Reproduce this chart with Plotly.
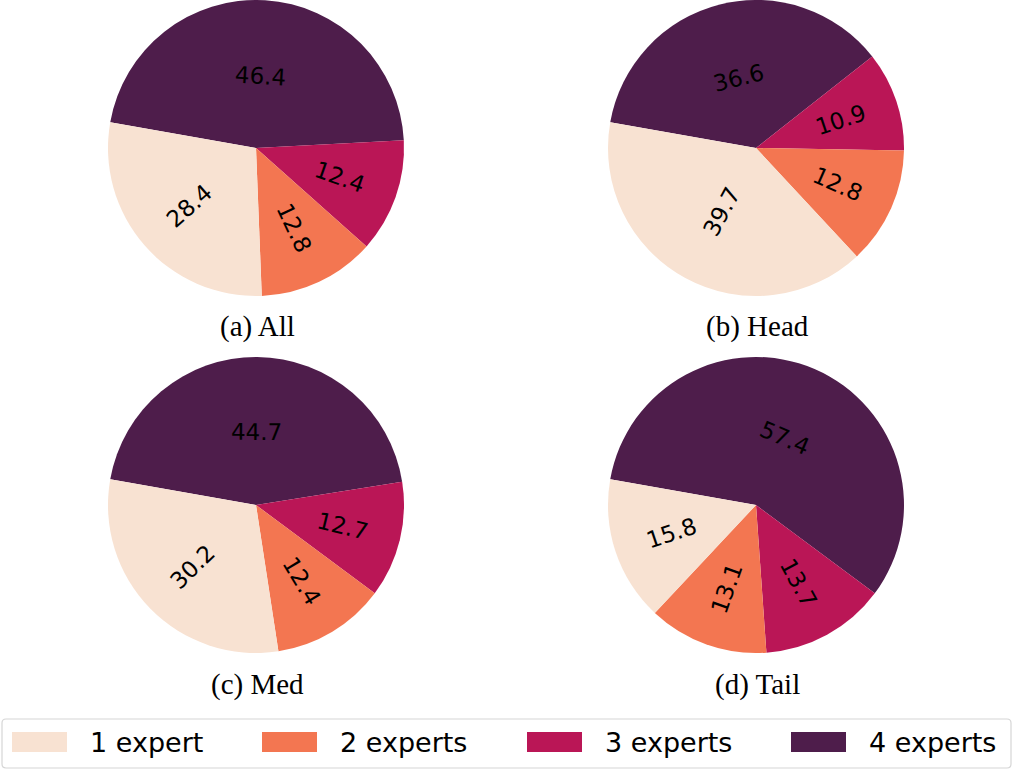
import math
import plotly.graph_objects as go

# ---------------- data ----------------
categories = ["1 expert", "2 experts", "3 experts", "4 experts"]
all_vals = [28.4, 12.8, 12.4, 46.4]
head_vals = [39.7, 12.8, 10.9, 36.6]
med_vals = [30.2, 12.4, 12.7, 44.7]
tail_vals = [15.8, 13.1, 13.7, 57.4]
panel_titles = ["(a) All", "(b) Head", "(c) Med", "(d) Tail"]

# ---------------- style ----------------
colors = ["#F8E2D2", "#F37651", "#BA1656", "#4E1D4B"]
label_orient = ["radial", "radial", "radial", "tangential"]

W, H = 1013, 771
R = 148
centers = [(256, 148), (756, 148), (256, 505), (756, 505)]
title_y = [326, 326, 684, 684]
START_DEG = 170  # math angle (ccw from east) where the first category starts


def px(x):
    return x / W


def py(y):
    return 1 - y / H


def norm180(a):
    a = a % 360
    if a > 180:
        a -= 360
    if a > 90:
        a -= 180
    elif a <= -90:
        a += 180
    return a


fig = go.Figure()

panels = [all_vals, head_vals, med_vals, tail_vals]
for vals, (cx, cy), title, ty in zip(panels, centers, panel_titles, title_y):
    dom = dict(x=[px(cx - R), px(cx + R)], y=[py(cy + R), py(cy - R)])
    # categories run counter-clockwise from START_DEG; drawn clockwise in reverse order
    fig.add_trace(go.Pie(
        labels=categories[::-1], values=vals[::-1], domain=dom, sort=False,
        direction="clockwise", rotation=90 - START_DEG,
        textinfo="none",
        marker=dict(colors=colors[::-1], line=dict(width=0)),
        hovertemplate="%{label}: %{value}<extra></extra>",
        showlegend=False))

    # value labels, placed from the slice angles
    total = sum(vals)
    acc = 0.0
    for v, o in zip(vals, label_orient):
        mid = START_DEG + (acc + v / 2) / total * 360
        acc += v
        frac = 0.6 if v < 35 else 0.49
        lx = cx + frac * R * math.cos(math.radians(mid))
        ly = cy - frac * R * math.sin(math.radians(mid))
        rot = norm180(mid) if o == "radial" else norm180(mid - 90)
        fig.add_annotation(text=f"{v:.1f}", x=px(lx), y=py(ly), xref="paper", yref="paper",
                           xanchor="center", yanchor="middle", showarrow=False,
                           textangle=-rot,
                           font=dict(family="DejaVu Sans", size=23, color="black"))

    fig.add_annotation(text=title, x=px(cx + 1), y=py(ty), xref="paper", yref="paper",
                       xanchor="center", yanchor="middle", showarrow=False,
                       font=dict(family="Liberation Serif", size=29, color="black"))

# ---------------- custom legend ----------------
lx0, lx1, ly0, ly1, rad = 2, 1011, 719, 768, 4
path = (f"M{px(lx0 + rad)},{py(ly0)} L{px(lx1 - rad)},{py(ly0)} "
        f"Q{px(lx1)},{py(ly0)} {px(lx1)},{py(ly0 + rad)} "
        f"L{px(lx1)},{py(ly1 - rad)} Q{px(lx1)},{py(ly1)} {px(lx1 - rad)},{py(ly1)} "
        f"L{px(lx0 + rad)},{py(ly1)} Q{px(lx0)},{py(ly1)} {px(lx0)},{py(ly1 - rad)} "
        f"L{px(lx0)},{py(ly0 + rad)} Q{px(lx0)},{py(ly0)} {px(lx0 + rad)},{py(ly0)} Z")
fig.add_shape(type="path", path=path, xref="paper", yref="paper",
              line=dict(color="#D6D6D6", width=1.2), fillcolor="white")

patch_x = [12, 262, 527, 791]
patch_w, patch_y0, patch_y1 = 55, 732, 752
text_gap = 21
for cat, col, x0 in zip(categories, colors, patch_x):
    fig.add_shape(type="rect", xref="paper", yref="paper",
                  x0=px(x0), x1=px(x0 + patch_w), y0=py(patch_y1), y1=py(patch_y0),
                  line=dict(width=0), fillcolor=col)
    fig.add_annotation(text=cat, x=px(x0 + patch_w + text_gap), y=py(742),
                       xref="paper", yref="paper", xanchor="left", yanchor="middle",
                       showarrow=False,
                       font=dict(family="DejaVu Sans", size=27, color="black"))

fig.update_layout(width=W, height=H, margin=dict(l=0, r=0, t=0, b=0),
                  paper_bgcolor="white", plot_bgcolor="white", showlegend=False)

fig.write_html("out.html", config={"displayModeBar": False},
               post_script="document.body.style.margin='0';document.body.style.overflow='hidden';")
